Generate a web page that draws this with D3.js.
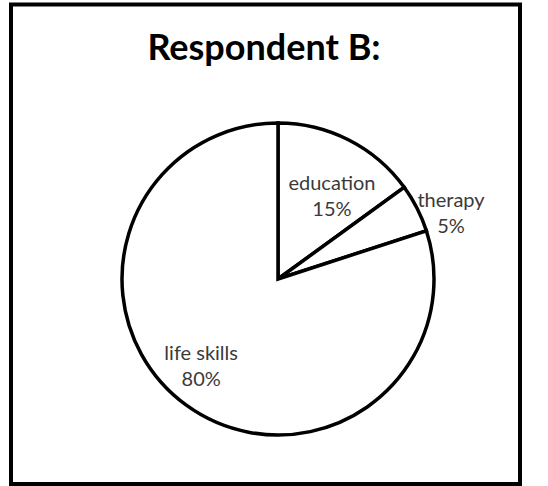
<!DOCTYPE html>
<html>
<head>
<meta charset="utf-8">
<script src="https://cdn.jsdelivr.net/npm/d3@7"></script>
<style>
  body { margin: 0; background: #fff; }
  text { font-family: Lato, "Open Sans", sans-serif; }
</style>
</head>
<body>
<script>
const categories = ["education", "therapy", "life skills"];
const values = [15, 5, 80];
const title = "Respondent B:";

const width = 548, height = 486;
const cx = 278, cy = 279, r = 156;

const svg = d3.select("body").append("svg")
  .attr("width", width)
  .attr("height", height);

// outer frame
svg.append("rect")
  .attr("x", 11).attr("y", 4.5)
  .attr("width", 509).attr("height", 479.5)
  .attr("fill", "#fff")
  .attr("stroke", "#000")
  .attr("stroke-width", 4);

svg.append("text")
  .attr("x", 264).attr("y", 60)
  .attr("text-anchor", "middle")
  .style("font-size", "36px")
  .style("font-weight", "bold")
  .attr("fill", "#000")
  .text(title);

const data = categories.map((c, i) => ({cat: c, value: values[i]}));

const pie = d3.pie()
  .sort(null)
  .value(d => d.value);

const arc = d3.arc()
  .innerRadius(0)
  .outerRadius(r);

const g = svg.append("g")
  .attr("transform", `translate(${cx},${cy})`);

const arcs = pie(data);

g.selectAll("path")
  .data(arcs)
  .join("path")
  .attr("d", arc)
  .attr("fill", "#fff")
  .attr("stroke", "#000")
  .attr("stroke-width", 3.5);

// small slices get their label outside, big ones inside
const labelPos = (d, i) => {
  const small = d.data.value < 10;
  const rr = small ? r * 1.19 : (i === 0 ? r * 0.64 : r * 0.74);
  const a = (d.startAngle + d.endAngle) / 2 + 0.1;
  return [Math.sin(a) * rr, -Math.cos(a) * rr];
};

const labels = g.selectAll("g.label")
  .data(arcs)
  .join("g")
  .attr("class", "label")
  .attr("transform", (d, i) => `translate(${labelPos(d, i)})`);

labels.append("text")
  .attr("text-anchor", "middle")
  .attr("y", -5)
  .attr("fill", "#3a3a3a")
  .style("font-size", "20px")
  .text(d => d.data.cat);

labels.append("text")
  .attr("text-anchor", "middle")
  .attr("y", 21)
  .attr("fill", "#3a3a3a")
  .style("font-size", "20px")
  .text(d => d.data.value + "%");
</script>
</body>
</html>
